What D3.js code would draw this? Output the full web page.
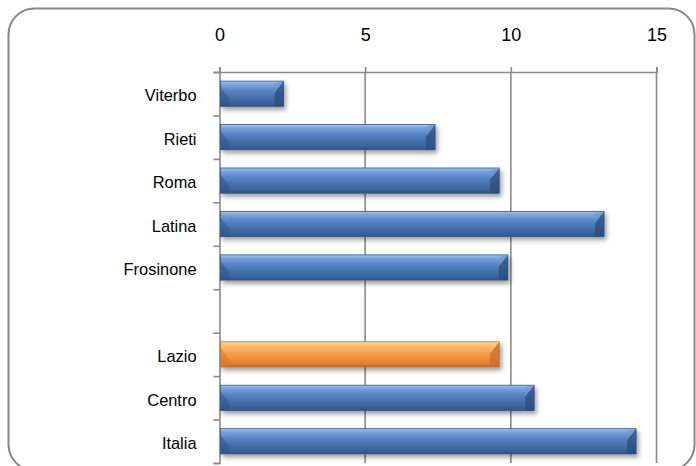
<!DOCTYPE html>
<html>
<head>
<meta charset="utf-8">
<script src="https://cdn.jsdelivr.net/npm/d3@7"></script>
<style>
  html, body { margin: 0; padding: 0; background: #fff; }
  svg { display: block; }
  text { font-family: "Liberation Sans", Arial, sans-serif; fill: #000; }
</style>
</head>
<body>
<svg id="chart" width="696" height="466"></svg>
<script>
// Province / area labels (the empty entry is the spacer row between groups)
const categories = ["Viterbo", "Rieti", "Roma", "Latina", "Frosinone", "", "Lazio", "Centro", "Italia"];
const values = [2.2, 7.4, 9.6, 13.2, 9.9, null, 9.6, 10.8, 14.3];
const highlighted = ["Lazio"];
const xTicks = [0, 5, 10, 15];

const svg = d3.select("#chart");
const W = 696;
const plot = { left: 219.5, right: 656.5, top: 72, bottom: 463 };

const defs = svg.append("defs");

function barGradient(id, stops) {
  const g = defs.append("linearGradient").attr("id", id)
    .attr("x1", 0).attr("y1", 0).attr("x2", 0).attr("y2", 1);
  stops.forEach(([o, c]) => g.append("stop").attr("offset", o).attr("stop-color", c));
}
barGradient("gBlue", [[0, "#a9c4ea"], [0.12, "#7ea5dc"], [0.35, "#5b87c6"], [0.6, "#4874b1"], [0.88, "#3a6299"], [1, "#2d4f7f"]]);
barGradient("gOrange", [[0, "#fde0b4"], [0.12, "#fbbd78"], [0.35, "#f9a658"], [0.6, "#f49442"], [0.88, "#e07f2f"], [1, "#b96322"]]);

const shadow = defs.append("filter").attr("id", "shadow")
  .attr("x", "-5%").attr("y", "-30%").attr("width", "115%").attr("height", "170%");
shadow.append("feGaussianBlur").attr("in", "SourceAlpha").attr("stdDeviation", 2.4).attr("result", "b");
shadow.append("feOffset").attr("in", "b").attr("dx", 2).attr("dy", 3).attr("result", "o");
shadow.append("feComponentTransfer").attr("in", "o").attr("result", "s")
  .append("feFuncA").attr("type", "linear").attr("slope", 0.4);
const merge = shadow.append("feMerge");
merge.append("feMergeNode").attr("in", "s");
merge.append("feMergeNode").attr("in", "SourceGraphic");

// Rounded outer frame
svg.append("rect")
  .attr("x", 8.5).attr("y", 8.5).attr("width", W - 10).attr("height", 462)
  .attr("rx", 26).attr("ry", 26)
  .attr("fill", "#fff").attr("stroke", "#878787").attr("stroke-width", 2);

const x = d3.scaleLinear().domain([0, 15]).range([plot.left, plot.right]);
const y = d3.scaleBand().domain(d3.range(categories.length))
  .range([plot.top, plot.bottom]).paddingInner(0.42).paddingOuter(0.21);
const yEdge = d3.scaleLinear().domain([0, categories.length]).range([plot.top, plot.bottom]);

// Vertical gridlines
svg.append("g").selectAll("line")
  .data(xTicks.filter(t => t > 0))
  .join("line")
  .attr("x1", d => x(d)).attr("x2", d => x(d))
  .attr("y1", plot.top).attr("y2", plot.bottom)
  .attr("stroke", "#8a8a8a").attr("stroke-width", 1.6);

// Top value axis
const xAxis = svg.append("g").attr("transform", `translate(0,${plot.top})`)
  .call(d3.axisTop(x).tickValues(xTicks).tickSize(5).tickPadding(26).tickFormat(d3.format("d")));
xAxis.select(".domain").attr("stroke", "#8a8a8a").attr("stroke-width", 1.6);
xAxis.selectAll(".tick line").attr("stroke", "#8a8a8a").attr("stroke-width", 1.6);
xAxis.selectAll(".tick text").attr("font-size", 18).attr("font-family", "Liberation Sans, Arial, sans-serif");

// Left category axis: tick marks at the row boundaries
const edgeAxis = svg.append("g").attr("transform", `translate(${plot.left},0)`)
  .call(d3.axisLeft(yEdge).tickValues(d3.range(categories.length + 1)).tickSize(6).tickFormat(""));
edgeAxis.select(".domain").attr("stroke", "#8a8a8a").attr("stroke-width", 1.6);
edgeAxis.selectAll(".tick line").attr("stroke", "#8a8a8a").attr("stroke-width", 1.6);

// Category labels
const labelAxis = svg.append("g").attr("transform", `translate(${plot.left},0)`)
  .call(d3.axisLeft(y).tickSize(0).tickPadding(23).tickFormat(i => categories[i]));
labelAxis.select(".domain").remove();
labelAxis.selectAll(".tick text").attr("font-size", 16.4).attr("dy", "0.47em")
  .attr("font-family", "Liberation Sans, Arial, sans-serif");

// Bars with bevelled ends
const rows = categories.map((c, i) => ({ c, i, v: values[i] })).filter(d => d.v != null);
const bars = svg.append("g").selectAll("g.bar").data(rows).join("g").attr("class", "bar");

bars.append("rect")
  .attr("x", x(0) + 1).attr("y", d => y(d.i))
  .attr("width", d => x(d.v) - x(0) - 1).attr("height", y.bandwidth())
  .attr("fill", d => highlighted.includes(d.c) ? "url(#gOrange)" : "url(#gBlue)")
  .attr("stroke", d => highlighted.includes(d.c) ? "#c0702c" : "#34598a")
  .attr("stroke-width", 0.8)
  .attr("filter", "url(#shadow)");

const bev = 9;
// left end bevel
bars.append("path")
  .attr("d", d => {
    const x0 = x(0) + 1, y0 = y(d.i), h = y.bandwidth();
    return `M${x0},${y0 + h * 0.25} L${x0 + bev},${y0 + h * 0.7} L${x0 + bev},${y0 + h} L${x0},${y0 + h}Z`;
  })
  .attr("fill", d => highlighted.includes(d.c) ? "#d9782c" : "#2f5486")
  .attr("opacity", 0.55);
// right end bevel: dark lower part, light upper corner
bars.append("path")
  .attr("d", d => {
    const x1 = x(d.v), y0 = y(d.i), h = y.bandwidth();
    return `M${x1},${y0} L${x1 - bev},${y0 + h * 0.45} L${x1 - bev},${y0 + h} L${x1},${y0 + h}Z`;
  })
  .attr("fill", d => highlighted.includes(d.c) ? "#c86b24" : "#264a7a")
  .attr("opacity", 0.7);
bars.append("path")
  .attr("d", d => {
    const x1 = x(d.v), y0 = y(d.i), h = y.bandwidth();
    return `M${x1},${y0} L${x1 - bev},${y0 + h * 0.45} L${x1 - bev},${y0 + 2} L${x1 - 2},${y0}Z`;
  })
  .attr("fill", d => highlighted.includes(d.c) ? "#fcc88a" : "#6f98d2")
  .attr("opacity", 0.6);
</script>
</body>
</html>
